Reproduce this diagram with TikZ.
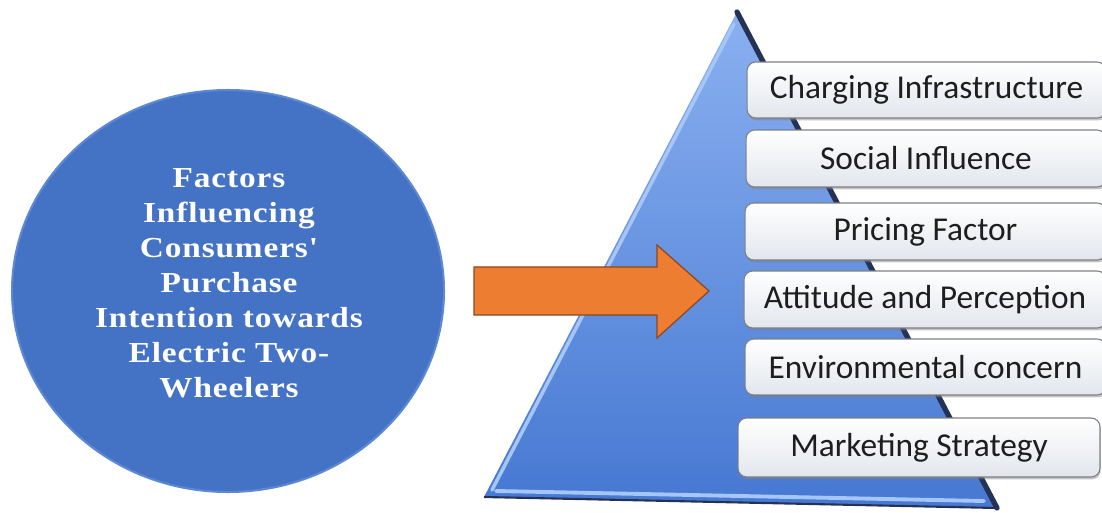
\documentclass[tikz,border=0pt]{standalone}
\usepackage{fontspec}
\setmainfont{Liberation Serif}
\newfontfamily\boxfont{Carlito}
\newfontfamily\titlefont[FakeStretch=1.15,LetterSpace=3]{Liberation Serif}
\usetikzlibrary{shapes.geometric,shadows}

\definecolor{discblue}{RGB}{68,114,196}
\definecolor{discrim}{RGB}{92,136,212}
\definecolor{pyrtop}{RGB}{138,176,240}
\definecolor{pyrbottom}{RGB}{70,120,210}
\definecolor{pyrlight}{RGB}{165,198,246}
\definecolor{pyrdark}{RGB}{36,50,86}
\definecolor{arrowfill}{RGB}{237,125,49}
\definecolor{arrowline}{RGB}{140,72,30}
\definecolor{boxline}{RGB}{125,128,134}
\definecolor{boxshade}{RGB}{226,230,236}
\definecolor{boxtext}{RGB}{30,30,30}

\tikzset{
  disc/.style={ellipse, fill=discblue, draw=discrim, line width=1.2pt, inner sep=0pt},
  disctext/.style={text=white, align=center, inner sep=0pt,
    font=\titlefont\bfseries\fontsize{16.5}{19.9}\selectfont},
  factor/.style={draw=boxline, line width=0.6pt, rounded corners=5pt,
    top color=white, bottom color=boxshade, text=boxtext, inner sep=0pt,
    font=\boxfont\fontsize{19}{22}\selectfont,
    drop shadow={shadow xshift=0.4pt, shadow yshift=-1.4pt, opacity=0.45}},
  blockarrow/.style={fill=arrowfill, draw=arrowline, line width=0.7pt, line join=miter}
}

\begin{document}
\begin{tikzpicture}[x=0.02cm, y=-0.02cm]
\clip (0,0) rectangle (1102,513);
\fill[white] (0,0) rectangle (1102,513);

% left disc with the title
\node[disc, minimum width=8.64cm, minimum height=8.04cm] (disc) at (228,291) {};
\node[disctext] (title) at (229,283)
  {Factors\\Influencing\\Consumers'\\Purchase\\Intention towards\\Electric Two-\\Wheelers};

% pyramid
\coordinate (apex) at (737,12);
\coordinate (bl) at (484,497);
\coordinate (br) at (997,508);
\shade[top color=pyrtop, bottom color=pyrbottom] (apex) -- (br) -- (bl) -- cycle;
\draw[pyrlight, line width=2pt, line cap=round] (734,24) -- (492,490);
\draw[pyrlight, line width=2.2pt, line cap=round] (496,491) -- (984,501);
\draw[pyrdark, line width=1.2pt] (bl) -- (br);
\draw[pyrdark, line width=3pt, line cap=round] (apex) -- (br);

% block arrow
\draw[blockarrow] (474,267) -- (657,267) -- (657,245) -- (709,291)
  -- (657,338) -- (657,315) -- (474,315) -- cycle;

% factor boxes
\node[factor, minimum width=7.18cm, minimum height=1.12cm] (charging) at (926.5,90)
  {Charging Infrastructure};
\node[factor, minimum width=7.20cm, minimum height=1.14cm] (social) at (926,158.5)
  {Social Influence};
\node[factor, minimum width=7.22cm, minimum height=1.14cm] (pricing) at (925.5,231.5)
  {Pricing Factor};
\node[factor, minimum width=7.24cm, minimum height=1.14cm] (attitude) at (925,299.5)
  {Attitude and Perception};
\node[factor, minimum width=7.22cm, minimum height=1.12cm] (environment) at (925.5,367)
  {Environmental concern};
\node[factor, minimum width=7.24cm, minimum height=1.18cm] (marketing) at (919,447.5)
  {Marketing Strategy};
\end{tikzpicture}
\end{document}
